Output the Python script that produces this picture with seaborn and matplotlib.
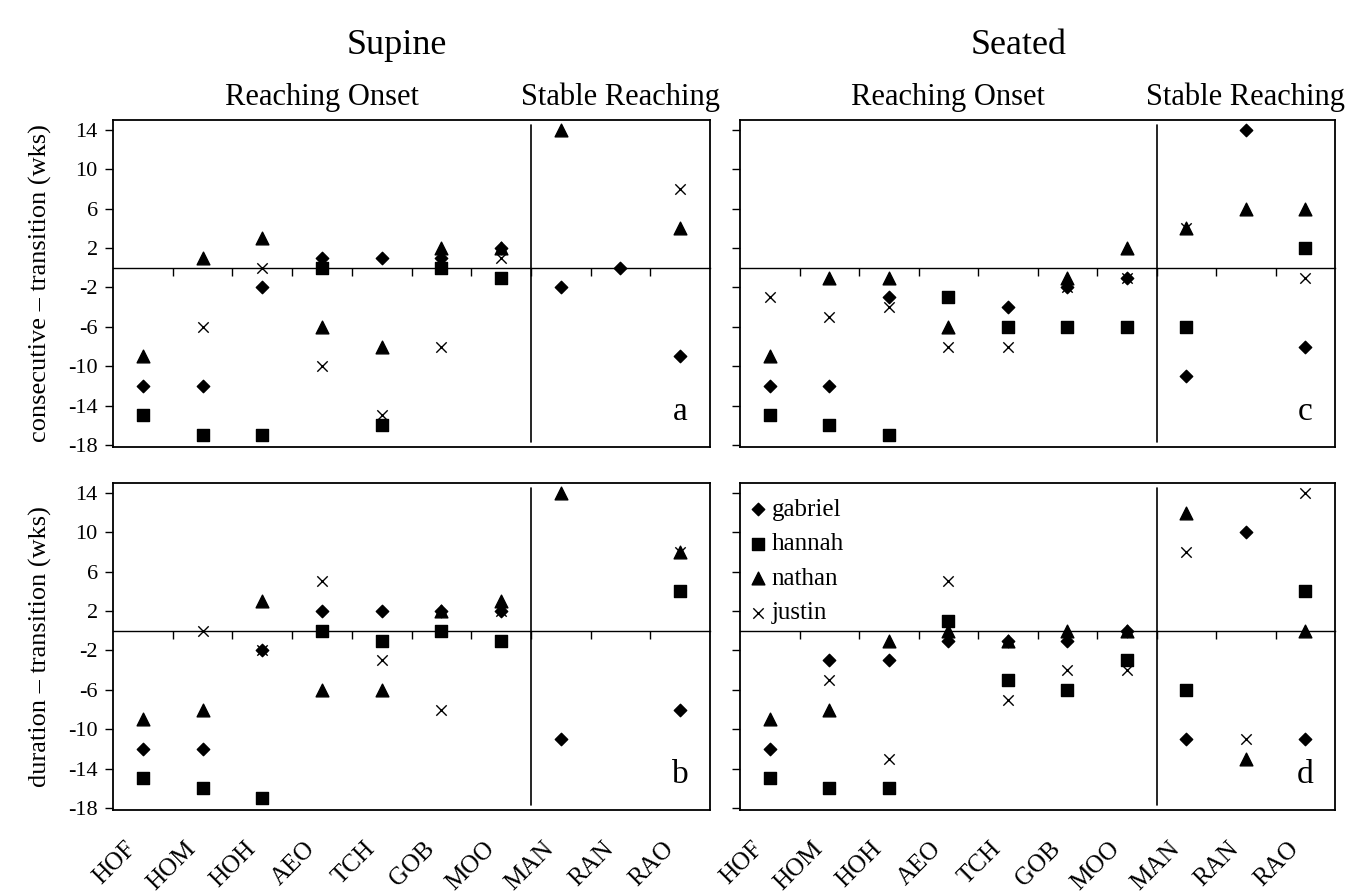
import numpy as np
import matplotlib
matplotlib.use("Agg")
import matplotlib.pyplot as plt
import matplotlib.transforms as mtransforms
import seaborn as sns

nan = np.nan

categories = ["HOF", "HOM", "HOH", "AEO", "TCH", "GOB", "MOO", "MAN", "RAN", "RAO"]
children = ["gabriel", "hannah", "nathan", "justin"]
y_ticks = [-18, -14, -10, -6, -2, 2, 6, 10, 14]

# Supine: consecutive - transition (wks)
supine_consec_gabriel = [-12, -12, -2, 1, 1, 1, 2, -2, 0, -9]
supine_consec_hannah = [-15, -17, -17, 0, -16, 0, -1, nan, nan, nan]
supine_consec_nathan = [-9, 1, 3, -6, -8, 2, 2, 14, nan, 4]
supine_consec_justin = [nan, -6, 0, -10, -15, -8, 1, nan, nan, 8]

# Supine: duration - transition (wks)
supine_dur_gabriel = [-12, -12, -2, 2, 2, 2, 2, -11, nan, -8]
supine_dur_hannah = [-15, -16, -17, 0, -1, 0, -1, nan, nan, 4]
supine_dur_nathan = [-9, -8, 3, -6, -6, 2, 3, 14, nan, 8]
supine_dur_justin = [nan, 0, -2, 5, -3, -8, 2, nan, nan, 8]

# Seated: consecutive - transition (wks)
seated_consec_gabriel = [-12, -12, -3, nan, -4, -2, -1, -11, 14, -8]
seated_consec_hannah = [-15, -16, -17, -3, -6, -6, -6, -6, nan, 2]
seated_consec_nathan = [-9, -1, -1, -6, nan, -1, 2, 4, 6, 6]
seated_consec_justin = [-3, -5, -4, -8, -8, -2, -1, 4, nan, -1]

# Seated: duration - transition (wks)
seated_dur_gabriel = [-12, -3, -3, -1, -1, -1, 0, -11, 10, -11]
seated_dur_hannah = [-15, -16, -16, 1, -5, -6, -3, -6, nan, 4]
seated_dur_nathan = [-9, -8, -1, 0, -1, 0, 0, 12, -13, 0]
seated_dur_justin = [nan, -5, -13, 5, -7, -4, -4, 8, -11, 14]

panels = {
    "a": [supine_consec_gabriel, supine_consec_hannah, supine_consec_nathan, supine_consec_justin],
    "b": [supine_dur_gabriel, supine_dur_hannah, supine_dur_nathan, supine_dur_justin],
    "c": [seated_consec_gabriel, seated_consec_hannah, seated_consec_nathan, seated_consec_justin],
    "d": [seated_dur_gabriel, seated_dur_hannah, seated_dur_nathan, seated_dur_justin],
}

# marker shape and area (pt^2) for each child
marker_style = {
    "gabriel": ("D", 40),
    "hannah": ("s", 66),
    "nathan": ("^", 84),
    "justin": ("x", 56),
}

sns.set_style("white")
plt.rcParams["font.family"] = ["Liberation Serif", "DejaVu Serif"]
plt.rcParams["axes.unicode_minus"] = False
for k in ("text.color", "axes.labelcolor", "xtick.color", "ytick.color", "axes.edgecolor"):
    plt.rcParams[k] = "black"

W, H = 1367, 893
fig = plt.figure(figsize=(W / 100, H / 100), dpi=100)


def rect(left, top, right, bottom):
    return [left / W, 1 - bottom / H, (right - left) / W, (bottom - top) / H]


axes = {
    "a": fig.add_axes(rect(113, 120, 710, 447)),
    "c": fig.add_axes(rect(740, 120, 1335, 447)),
    "b": fig.add_axes(rect(113, 483, 710, 810)),
    "d": fig.add_axes(rect(740, 483, 1335, 810)),
}

ylim = (-18.2, 15.0)
x_pos = np.arange(len(categories))

for key, ax in axes.items():
    for child, values in zip(children, panels[key]):
        marker, size = marker_style[child]
        sns.scatterplot(x=x_pos, y=np.array(values, dtype=float), ax=ax,
                        marker=marker, s=size, color="black",
                        edgecolor="black" if marker != "x" else None,
                        linewidth=1.0, label=child, legend=False, zorder=3)

    ax.set_xlim(-0.5, len(categories) - 0.5)
    ax.set_ylim(*ylim)
    ax.set_yticks(y_ticks)
    ax.set_xticks(x_pos)
    for s in ax.spines.values():
        s.set_visible(True)
        s.set_color("black")
        s.set_linewidth(1.3)
    ax.grid(False)
    ax.tick_params(axis="y", direction="out", length=6, width=1, pad=5,
                   labelsize=16, left=True, colors="black")
    left_col = key in ("a", "b")
    bottom_row = key in ("b", "d")
    ax.tick_params(axis="y", labelleft=left_col)
    ax.tick_params(axis="x", length=0, labelbottom=bottom_row, colors="black")
    ax.set_xlabel("")
    ax.set_ylabel("")

    # zero line with tick marks between categories
    frac = (0 - ylim[0]) / (ylim[1] - ylim[0])
    sec = ax.secondary_xaxis(frac)
    sec.set_alignment("bottom")
    sec.set_xticks(np.arange(0.5, len(categories) - 1, 1.0))
    sec.tick_params(axis="x", direction="out", length=6, width=1,
                    labelbottom=False, labeltop=False, colors="black")
    for s in sec.spines.values():
        s.set_linewidth(1.0)
        s.set_color("black")

    # divider between reaching onset and stable reaching
    ax.axvline(6.5, ymin=0.015, ymax=0.985, color="black", lw=1.2)

    # panel letter
    ax.text(9, -15.5, key, ha="center", va="baseline", fontsize=24)

    # phase headers above the top panels
    if key in ("a", "c"):
        trans = mtransforms.blended_transform_factory(ax.transData, ax.transAxes)
        ax.text(3, 1.046, "Reaching Onset", transform=trans, ha="center",
                va="baseline", fontsize=22)
        ax.text(8, 1.046, "Stable Reaching", transform=trans, ha="center",
                va="baseline", fontsize=22, clip_on=False)

    if bottom_row:
        ax.set_xticklabels(categories, rotation=45, ha="right",
                           rotation_mode="anchor", fontsize=18)
        ax.tick_params(axis="x", pad=20)
        shift = mtransforms.ScaledTranslation(-0.18, 0, fig.dpi_scale_trans)
        for lbl in ax.get_xticklabels():
            lbl.set_transform(lbl.get_transform() + shift)

axes["a"].set_ylabel("consecutive \u2013 transition (wks)", fontsize=19)
axes["b"].set_ylabel("duration \u2013 transition (wks)", fontsize=19)
axes["a"].yaxis.set_label_coords(-0.102, 0.5)
axes["b"].yaxis.set_label_coords(-0.102, 0.5)

leg = axes["d"].legend(loc="upper left", bbox_to_anchor=(-0.008, 0.995),
                       frameon=False, fontsize=18, handletextpad=0.2,
                       handlelength=0.7, labelspacing=0.48, borderaxespad=0.25,
                       borderpad=0.3, scatterpoints=1)

fig.text(397 / W, 1 - 45 / H, "Supine", ha="center", va="center", fontsize=26)
fig.text(1019 / W, 1 - 45 / H, "Seated", ha="center", va="center", fontsize=26)

fig.savefig("out.png", dpi=100, facecolor="white")
